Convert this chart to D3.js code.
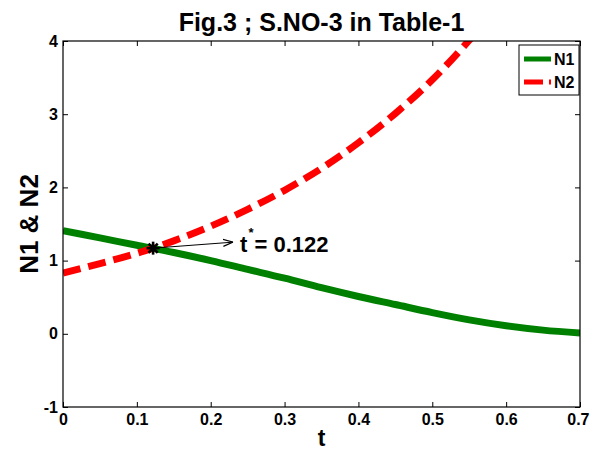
<!DOCTYPE html>
<html>
<head>
<meta charset="utf-8">
<script src="https://cdn.jsdelivr.net/npm/d3@7"></script>
<style>
  html, body { margin: 0; padding: 0; background: #fff; }
  svg { display: block; }
  text { font-family: "Liberation Sans", Arial, Helvetica, sans-serif; font-weight: bold; fill: #000; }
</style>
</head>
<body>
<svg id="chart" width="590" height="452"></svg>
<script>
// Sampled solution curves
const tValues  = [0, 0.05, 0.1, 0.15, 0.2, 0.25, 0.3, 0.35, 0.4, 0.45, 0.5, 0.55, 0.6, 0.65, 0.7];
const n1Values = [1.41, 1.31, 1.21, 1.11, 1.00, 0.88, 0.76, 0.63, 0.51, 0.40, 0.29, 0.19, 0.11, 0.05, 0.01];
const n2Values = [0.83, 0.96, 1.10, 1.27, 1.47, 1.70, 1.96, 2.26, 2.61, 3.01, 3.47, 4.01, 4.60, 5.30, 6.10];

// Crossing point (t*, N)
const crossT = 0.122;
const crossN = 1.17;

const xTicks = [0, 0.1, 0.2, 0.3, 0.4, 0.5, 0.6, 0.7];
const yTicks = [-1, 0, 1, 2, 3, 4];
const seriesNames = ["N1", "N2"];

const svg = d3.select("#chart");
const plot = { left: 63, right: 580, top: 41, bottom: 407 };

const x = d3.scaleLinear().domain([0, 0.7]).range([plot.left, plot.right]);
const y = d3.scaleLinear().domain([-1, 4]).range([plot.bottom, plot.top]);

svg.append("defs").append("clipPath").attr("id", "plot-clip")
  .append("rect")
  .attr("x", plot.left).attr("y", plot.top)
  .attr("width", plot.right - plot.left).attr("height", plot.bottom - plot.top);

// Axes on all four sides, ticks pointing inward
const tickLen = 5;
const plain = d => String(d);
const axisBottom = d3.axisBottom(x).tickValues(xTicks).tickSizeInner(-tickLen).tickSizeOuter(0)
  .tickPadding(7).tickFormat(plain);
const axisLeft = d3.axisLeft(y).tickValues(yTicks).tickSizeInner(-tickLen).tickSizeOuter(0)
  .tickPadding(5).tickFormat(plain);
const axisTop = d3.axisTop(x).tickValues(xTicks).tickSizeInner(-tickLen).tickSizeOuter(0).tickFormat("");
const axisRight = d3.axisRight(y).tickValues(yTicks).tickSizeInner(-tickLen).tickSizeOuter(0).tickFormat("");

function styleAxis(g) {
  g.attr("font-family", null).attr("font-size", null);
  g.select(".domain").remove();
  g.selectAll(".tick line").attr("stroke", "#000").attr("stroke-width", 1);
  g.selectAll(".tick text").attr("font-size", 16).attr("fill", "#000");
}

const gx = svg.append("g").attr("transform", `translate(0,${plot.bottom})`).call(axisBottom).call(styleAxis);
// keep the last x label inside the canvas
gx.selectAll(".tick text").filter(d => d === xTicks[xTicks.length - 1])
  .attr("text-anchor", "end").attr("x", 9);
svg.append("g").attr("transform", `translate(${plot.left},0)`).call(axisLeft).call(styleAxis);
svg.append("g").attr("transform", `translate(0,${plot.top})`).call(axisTop).call(styleAxis);
svg.append("g").attr("transform", `translate(${plot.right},0)`).call(axisRight).call(styleAxis);

// Curves
const line = d3.line().x((d, i) => x(tValues[i])).y(d => y(d)).curve(d3.curveMonotoneX);
const curves = svg.append("g").attr("clip-path", "url(#plot-clip)");

curves.append("path").datum(n1Values)
  .attr("d", line).attr("fill", "none")
  .attr("stroke", "#008000").attr("stroke-width", 7);

curves.append("path").datum(n2Values)
  .attr("d", line).attr("fill", "none")
  .attr("stroke", "#ff0000").attr("stroke-width", 7)
  .attr("stroke-dasharray", "18 8");

// Plot box
svg.append("rect")
  .attr("x", plot.left).attr("y", plot.top)
  .attr("width", plot.right - plot.left).attr("height", plot.bottom - plot.top)
  .attr("fill", "none").attr("stroke", "#000").attr("stroke-width", 1.2);

// Crossing marker: eight-armed star
const cx = x(crossT), cy = y(crossN);
const star = svg.append("g").attr("transform", `translate(${cx},${cy})`);
d3.range(4).forEach(k => {
  const a = k * Math.PI / 4, r = 6.5;
  star.append("line")
    .attr("x1", -r * Math.cos(a)).attr("y1", -r * Math.sin(a))
    .attr("x2", r * Math.cos(a)).attr("y2", r * Math.sin(a))
    .attr("stroke", "#000").attr("stroke-width", 2.6);
});

// Annotation arrow
svg.append("defs").append("marker")
  .attr("id", "arrowhead").attr("viewBox", "0 0 10 10")
  .attr("refX", 10).attr("refY", 5)
  .attr("markerWidth", 10).attr("markerHeight", 10)
  .attr("markerUnits", "userSpaceOnUse").attr("orient", "auto")
  .append("path").attr("d", "M0,1.5 L10,5 L0,8.5").attr("fill", "none")
  .attr("stroke", "#000").attr("stroke-width", 1.2);

svg.append("line")
  .attr("x1", cx).attr("y1", cy)
  .attr("x2", cx + 80).attr("y2", cy - 6)
  .attr("stroke", "#000").attr("stroke-width", 1)
  .attr("marker-end", "url(#arrowhead)");

const ann = svg.append("text").attr("x", cx + 87).attr("y", cy + 4).attr("font-size", 22);
ann.append("tspan").text("t");
ann.append("tspan").attr("font-size", 13).attr("dy", -15).attr("dx", 1).text("*");
ann.append("tspan").attr("dy", 15).attr("dx", 1).text("= " + crossT);

// Title and axis labels
svg.append("text").attr("x", (plot.left + plot.right) / 2).attr("y", 31)
  .attr("text-anchor", "middle").attr("font-size", 25)
  .text("Fig.3 ; S.NO-3 in Table-1");

svg.append("text").attr("x", (plot.left + plot.right) / 2).attr("y", 446)
  .attr("text-anchor", "middle").attr("font-size", 23).text("t");

svg.append("text")
  .attr("transform", `translate(38,${(plot.top + plot.bottom) / 2}) rotate(-90)`)
  .attr("text-anchor", "middle").attr("font-size", 26)
  .text(seriesNames[0] + "  & " + seriesNames[1]);

// Legend
const legend = svg.append("g").attr("transform", "translate(519,45)");
legend.append("rect").attr("width", 60).attr("height", 50)
  .attr("fill", "#fff").attr("stroke", "#000").attr("stroke-width", 1);
const legendItems = [
  { name: seriesNames[0], color: "#008000", dash: null },
  { name: seriesNames[1], color: "#ff0000", dash: "19 6" }
];
legendItems.forEach((it, i) => {
  const yy = 14 + i * 23;
  legend.append("line").attr("x1", 5).attr("x2", 32).attr("y1", yy).attr("y2", yy)
    .attr("stroke", it.color).attr("stroke-width", 5).attr("stroke-dasharray", it.dash);
  legend.append("text").attr("x", 35).attr("y", yy + 6).attr("font-size", 16).text(it.name);
});
</script>
</body>
</html>
